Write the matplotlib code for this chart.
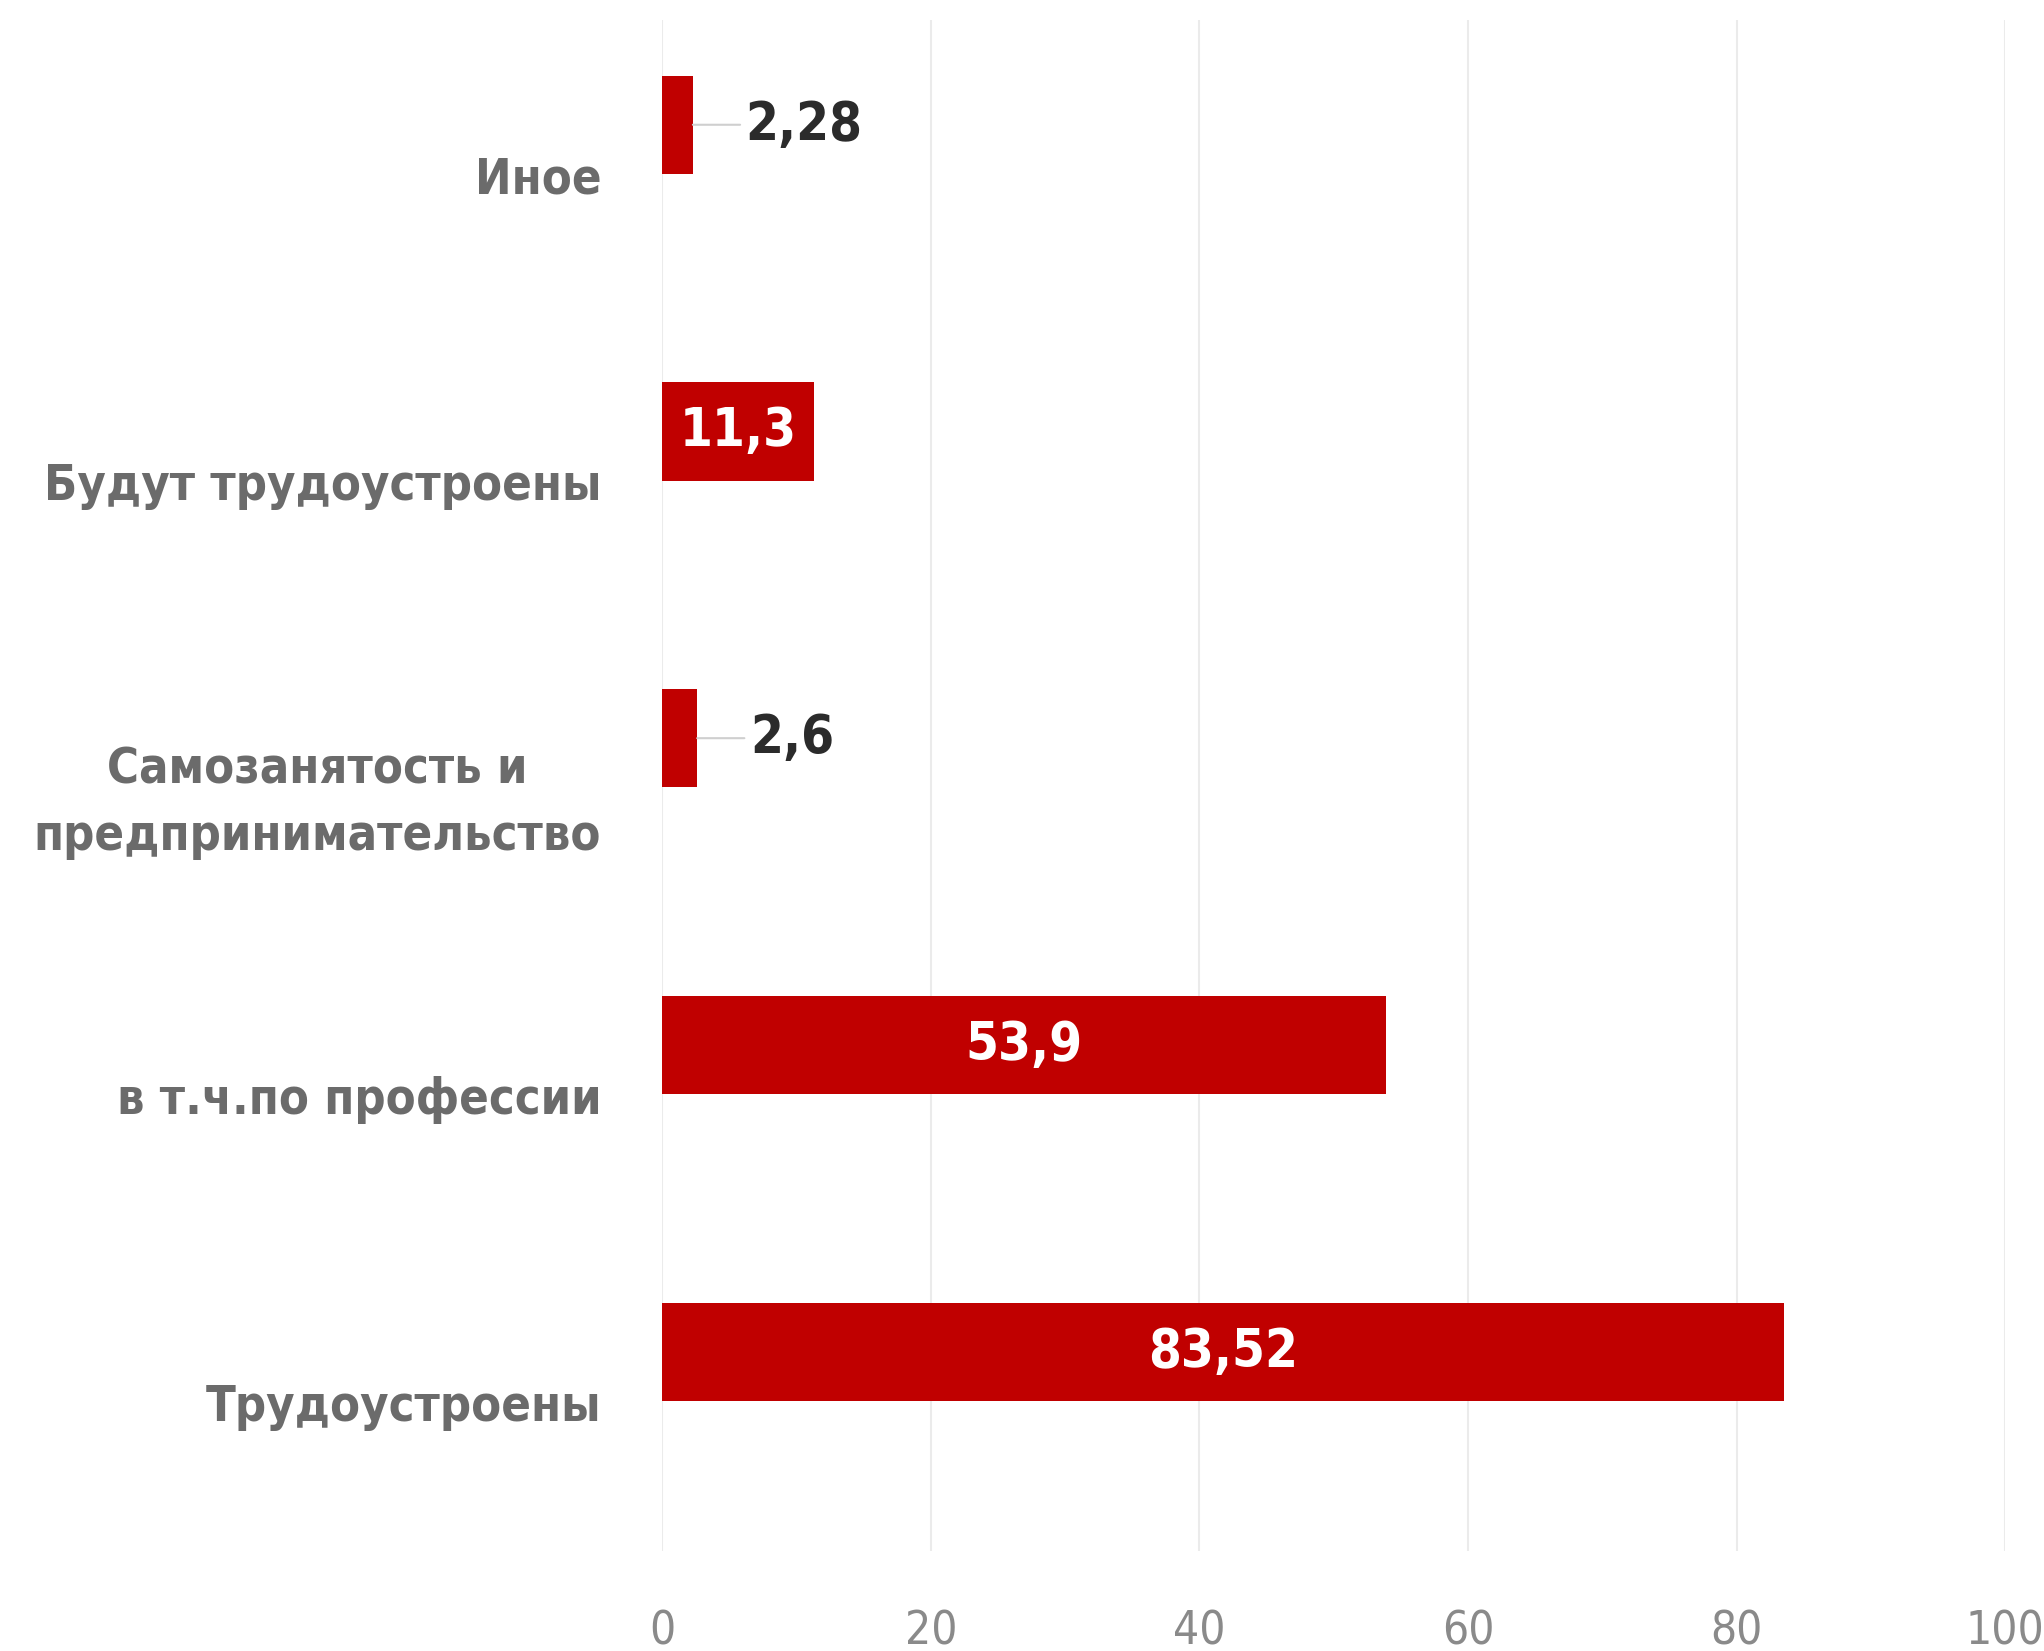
import numpy as np
import matplotlib.pyplot as plt
import matplotlib.transforms as mtransforms
from matplotlib import font_manager as fm

# data, bottom to top
categories = ['Трудоустроены', 'в т.ч.по профессии',
              'Самозанятость и\nпредпринимательство',
              'Будут трудоустроены', 'Иное']
values = [83.52, 53.9, 2.6, 11.3, 2.28]
value_labels = ['83,52', '53,9', '2,6', '11,3', '2,28']
xticks = [0, 20, 40, 60, 80, 100]

bar_color = '#C00000'


def narrow_font(bold):
    # look for some condensed / narrow face, fall back to DejaVu Sans
    for f in fm.fontManager.ttflist:
        name = f.name + ' ' + f.fname
        narrow = ('Narrow' in name or 'Condensed' in name
                  or str(f.stretch) in ('condensed', 'semi-condensed', '75', '87'))
        is_bold = f.weight in ('bold', 700, 'heavy') or (isinstance(f.weight, int) and f.weight >= 600)
        italic = f.style != 'normal'
        if narrow and is_bold == bold and not italic:
            return fm.FontProperties(fname=f.fname)
    return fm.FontProperties(family='DejaVu Sans', weight='bold' if bold else 'normal')


fp_bold = narrow_font(True)
fp_reg = narrow_font(False)

fig = plt.figure(figsize=(20.44, 16.51), dpi=100)
ax = fig.add_axes([0.324, 0.0606, 0.657, 0.927])

y = np.arange(len(categories))
ax.barh(y, values, height=0.32, color=bar_color, zorder=3)

ax.set_xlim(0, 100)
ax.set_ylim(-0.65, 4.34)
ax.set_xticks(xticks)
ax.set_xticklabels([str(t) for t in xticks], color='#8a8a8a',
                   fontproperties=fp_reg, fontsize=33)
ax.set_yticks(y)
ax.set_yticklabels(categories, color='#6b6b6b', fontproperties=fp_bold,
                   fontsize=35, linespacing=1.5)
ax.tick_params(axis='both', length=0)
ax.tick_params(axis='x', pad=42)
ax.tick_params(axis='y', pad=44)

# labels sit a bit below their bars, two-line one is centred
shift = mtransforms.ScaledTranslation(0, -0.5, fig.dpi_scale_trans)
for lab in ax.get_yticklabels():
    lab.set_transform(lab.get_transform() + shift)
    lab.set_multialignment('center')

ax.grid(axis='x', color='#ebebeb', linewidth=1.5, zorder=0)
ax.grid(axis='y', visible=False)
for s in ax.spines.values():
    s.set_visible(False)

for yi, v, txt in zip(y, values, value_labels):
    if v > 8:
        ax.text(v / 2, yi, txt, ha='center', va='center', color='white',
                fontproperties=fp_bold, fontsize=38, zorder=4)
    else:
        ax.annotate(txt, xy=(v, yi), xytext=(38, 0), textcoords='offset points',
                    ha='left', va='center', color='#2b2b2b',
                    fontproperties=fp_bold, fontsize=38,
                    arrowprops=dict(arrowstyle='-', color='#cfcfcf', lw=1.5,
                                    shrinkA=2, shrinkB=0))

fig.savefig('out.png', dpi=100)
